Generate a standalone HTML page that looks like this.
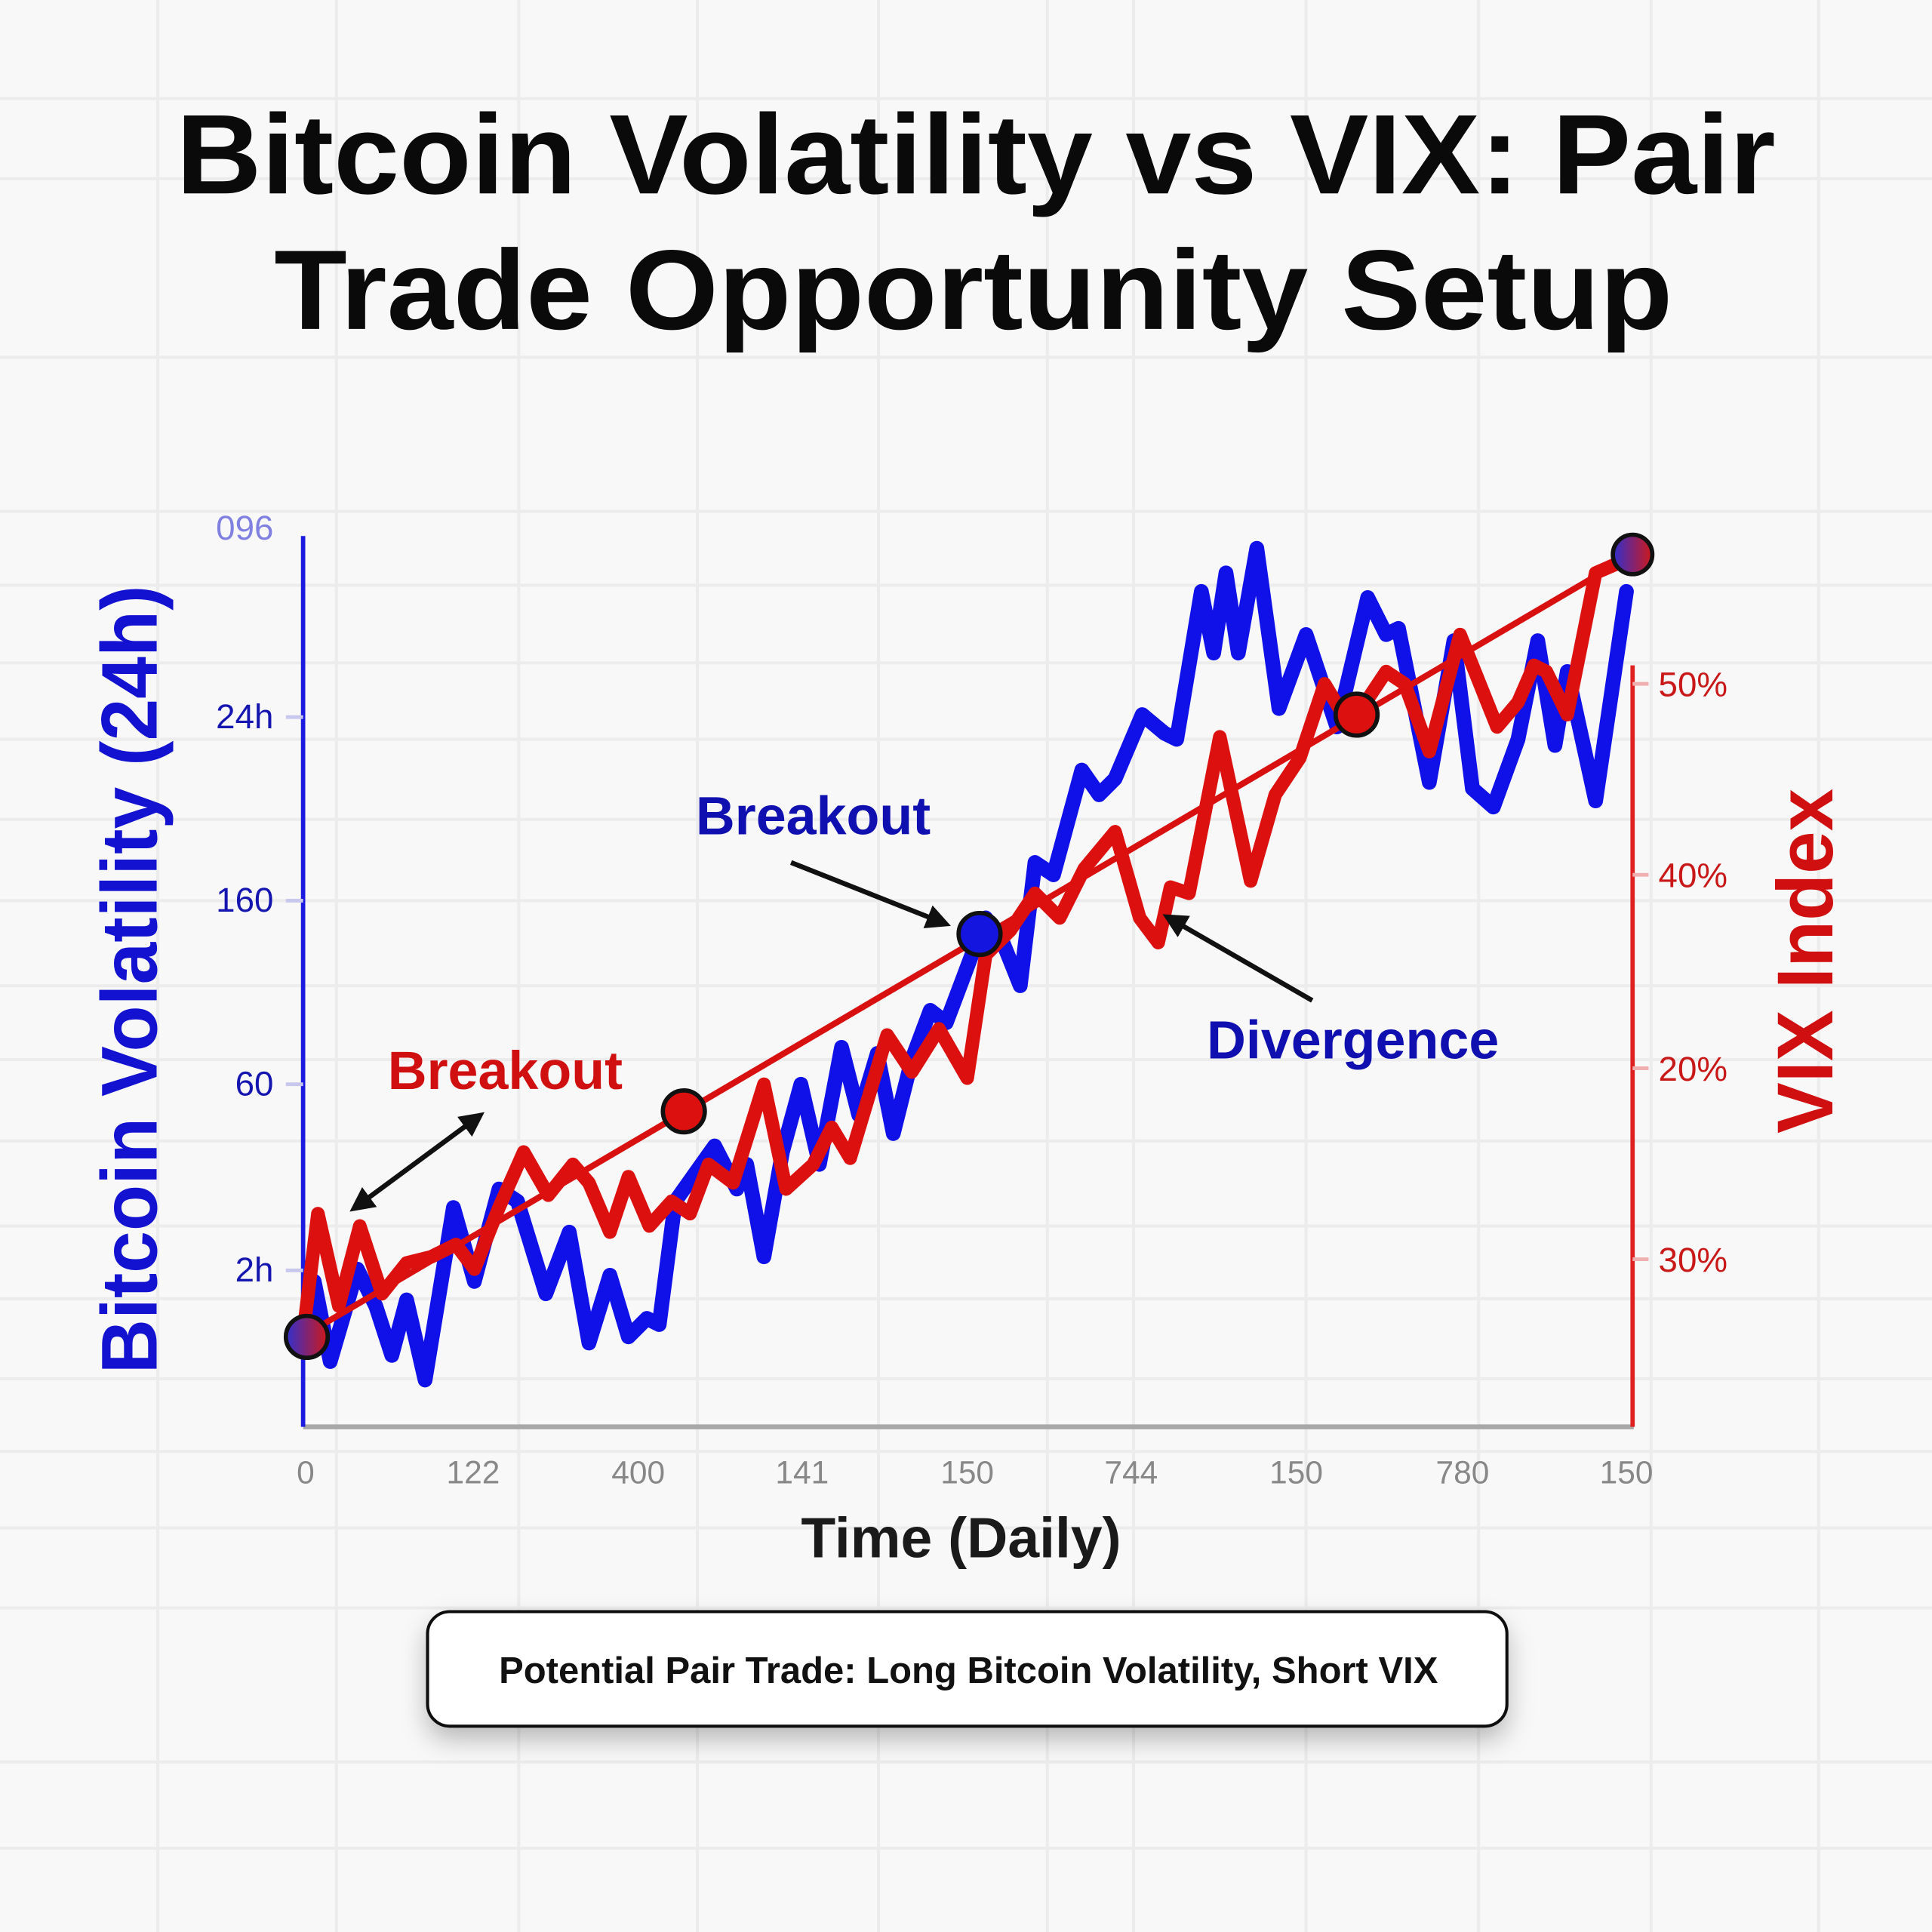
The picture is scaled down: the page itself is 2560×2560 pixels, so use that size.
<!DOCTYPE html>
<html><head><meta charset="utf-8"><style>
html,body{margin:0;padding:0;background:#f7f7f7;}
svg{display:block;}
</style></head><body>
<svg width="2560" height="2560" viewBox="0 0 1568 1568" xmlns="http://www.w3.org/2000/svg" font-family="Liberation Sans, sans-serif">
<defs>
<linearGradient id="pg" x1="0" x2="1" y1="0" y2="0"><stop offset="0" stop-color="#3030d0"/><stop offset="1" stop-color="#d01818"/></linearGradient>
<filter id="sh" x="-10%" y="-30%" width="120%" height="180%"><feDropShadow dx="0" dy="10" stdDeviation="10" flood-color="#000" flood-opacity="0.25"/></filter>
<marker id="ah" viewBox="0 0 10 10" refX="8" refY="5" markerWidth="5" markerHeight="5" orient="auto-start-reverse"><path d="M0,0 L10,5 L0,10 z" fill="#111"/></marker>
</defs>
<rect width="1568" height="1568" fill="#f8f8f8"/>
<g stroke="#ececec" stroke-width="2.5">
<line x1="128" y1="0" x2="128" y2="1568"/><line x1="273" y1="0" x2="273" y2="1568"/><line x1="421" y1="0" x2="421" y2="1568"/><line x1="566" y1="0" x2="566" y2="1568"/><line x1="713" y1="0" x2="713" y2="1568"/><line x1="850" y1="0" x2="850" y2="1568"/><line x1="920" y1="0" x2="920" y2="1568"/><line x1="1060" y1="0" x2="1060" y2="1568"/><line x1="1200" y1="0" x2="1200" y2="1568"/><line x1="1340" y1="0" x2="1340" y2="1568"/><line x1="1476" y1="0" x2="1476" y2="1568"/>
<line x1="0" y1="80" x2="1568" y2="80"/><line x1="0" y1="145" x2="1568" y2="145"/><line x1="0" y1="290" x2="1568" y2="290"/><line x1="0" y1="415" x2="1568" y2="415"/><line x1="0" y1="475" x2="1568" y2="475"/><line x1="0" y1="538" x2="1568" y2="538"/><line x1="0" y1="600" x2="1568" y2="600"/><line x1="0" y1="665" x2="1568" y2="665"/><line x1="0" y1="731" x2="1568" y2="731"/><line x1="0" y1="800" x2="1568" y2="800"/><line x1="0" y1="860" x2="1568" y2="860"/><line x1="0" y1="926" x2="1568" y2="926"/><line x1="0" y1="995" x2="1568" y2="995"/><line x1="0" y1="1054" x2="1568" y2="1054"/><line x1="0" y1="1119" x2="1568" y2="1119"/><line x1="0" y1="1178" x2="1568" y2="1178"/><line x1="0" y1="1240" x2="1568" y2="1240"/><line x1="0" y1="1305" x2="1568" y2="1305"/><line x1="0" y1="1430" x2="1568" y2="1430"/><line x1="0" y1="1500" x2="1568" y2="1500"/>
</g>
<text x="792" y="157" font-size="92" font-weight="bold" text-anchor="middle" fill="#0a0a0a" textLength="1298" lengthAdjust="spacingAndGlyphs">Bitcoin Volatility vs VIX: Pair</text>
<text x="790" y="267" font-size="92" font-weight="bold" text-anchor="middle" fill="#0a0a0a" textLength="1135" lengthAdjust="spacingAndGlyphs">Trade Opportunity Setup</text>
<line x1="246" y1="1158" x2="1326" y2="1158" stroke="#a8a8a8" stroke-width="4"/>
<line x1="246" y1="435" x2="246" y2="1158" stroke="#1a1ae0" stroke-width="3.5"/>
<line x1="1325" y1="540" x2="1325" y2="1158" stroke="#e02020" stroke-width="3.5"/>
<g stroke="#c8c8ee" stroke-width="3"><line x1="232" y1="582" x2="246" y2="582"/><line x1="232" y1="731" x2="246" y2="731"/><line x1="232" y1="880" x2="246" y2="880"/><line x1="232" y1="1031" x2="246" y2="1031"/></g>
<g stroke="#f0b0b0" stroke-width="3"><line x1="1325" y1="555" x2="1338" y2="555"/><line x1="1325" y1="710" x2="1338" y2="710"/><line x1="1325" y1="867" x2="1338" y2="867"/><line x1="1325" y1="1022" x2="1338" y2="1022"/></g>
<g font-size="28" fill="#1515b0" text-anchor="end">
<text x="222" y="438" fill="#8080e0">096</text><text x="222" y="591">24h</text><text x="222" y="740">160</text><text x="222" y="889">60</text><text x="222" y="1040">2h</text></g>
<g font-size="28" fill="#c81818"><text x="1346" y="565">50%</text><text x="1346" y="720">40%</text><text x="1346" y="877">20%</text><text x="1346" y="1032">30%</text></g>
<g font-size="26" fill="#888" text-anchor="middle"><text x="248" y="1204">0</text><text x="384" y="1204">122</text><text x="518" y="1204">400</text><text x="651" y="1204">141</text><text x="785" y="1204">150</text><text x="918" y="1204">744</text><text x="1052" y="1204">150</text><text x="1187" y="1204">780</text><text x="1320" y="1204">150</text></g>
<text x="780" y="1264" font-size="46" font-weight="bold" text-anchor="middle" fill="#1a1a1a">Time (Daily)</text>
<text transform="translate(127,795) rotate(-90)" font-size="64" font-weight="bold" text-anchor="middle" fill="#1212d0" textLength="640" lengthAdjust="spacingAndGlyphs">Bitcoin Volatility (24h)</text>
<text transform="translate(1487,780) rotate(-90)" font-size="64" font-weight="bold" text-anchor="middle" fill="#d01010" textLength="280" lengthAdjust="spacingAndGlyphs">VIX Index</text>
<polyline fill="none" stroke="#1010e8" stroke-width="12" stroke-linejoin="round" stroke-linecap="round" points="247,1090 255,1040 268,1105 290,1030 305,1060 318,1100 330,1055 345,1120 368,980 385,1040 405,965 420,975 443,1050 462,1000 478,1090 495,1035 510,1085 525,1070 535,1075 548,975 580,930 598,965 606,945 620,1020 635,935 650,880 665,945 683,850 697,905 712,855 725,920 740,860 755,820 768,830 800,745 812,760 828,800 840,700 855,710 878,625 892,645 905,632 927,580 945,595 955,600 975,480 985,530 995,465 1005,530 1020,445 1038,575 1060,515 1085,590 1110,485 1125,515 1135,510 1160,635 1180,520 1195,640 1212,655 1232,600 1248,520 1262,605 1272,545 1295,650 1320,480"/>
<line x1="250" y1="1082" x2="1325" y2="450" stroke="#d81010" stroke-width="5"/>
<polyline fill="none" stroke="#dd1010" stroke-width="11" stroke-linejoin="round" stroke-linecap="round" points="247,1075 258,985 275,1060 292,995 310,1050 330,1025 350,1020 370,1010 385,1030 405,980 425,935 445,970 465,945 478,960 495,1000 510,955 527,995 545,975 560,985 575,945 595,960 620,880 638,965 660,945 675,915 690,940 720,840 740,870 762,835 785,875 800,775 820,755 840,725 860,745 880,705 905,675 925,745 940,765 950,720 965,725 990,598 1015,715 1035,645 1055,615 1075,555 1090,580 1105,575 1125,545 1140,555 1160,610 1185,515 1215,590 1232,570 1245,540 1255,545 1272,580 1295,465 1318,455"/>
<g stroke="#111" stroke-width="3.5">
<circle cx="249" cy="1085" r="17" fill="url(#pg)"/>
<circle cx="555" cy="902" r="17" fill="#dd1010"/>
<circle cx="795" cy="758" r="17" fill="#1515e0"/>
<circle cx="1101" cy="580" r="17" fill="#dd1010"/>
<circle cx="1325" cy="450" r="16" fill="url(#pg)"/>
</g>
<text x="660" y="677" font-size="44" font-weight="bold" text-anchor="middle" fill="#1010b0">Breakout</text>
<line x1="642" y1="700" x2="768" y2="750" stroke="#111" stroke-width="4" marker-end="url(#ah)"/>
<text x="410" y="884" font-size="44" font-weight="bold" text-anchor="middle" fill="#d01010">Breakout</text>
<line x1="287" y1="981" x2="390" y2="905" stroke="#111" stroke-width="4" marker-end="url(#ah)" marker-start="url(#ah)"/>
<text x="1098" y="859" font-size="44" font-weight="bold" text-anchor="middle" fill="#1010b0">Divergence</text>
<line x1="1065" y1="812" x2="947" y2="744" stroke="#111" stroke-width="4" marker-end="url(#ah)"/>
<rect x="347" y="1308" width="876" height="93" rx="18" fill="#fff" stroke="#111" stroke-width="2.5" filter="url(#sh)"/>
<text x="786" y="1366" font-size="30" font-weight="bold" text-anchor="middle" fill="#111">Potential Pair Trade: Long Bitcoin Volatility, Short VIX</text>
</svg>
</body></html>
